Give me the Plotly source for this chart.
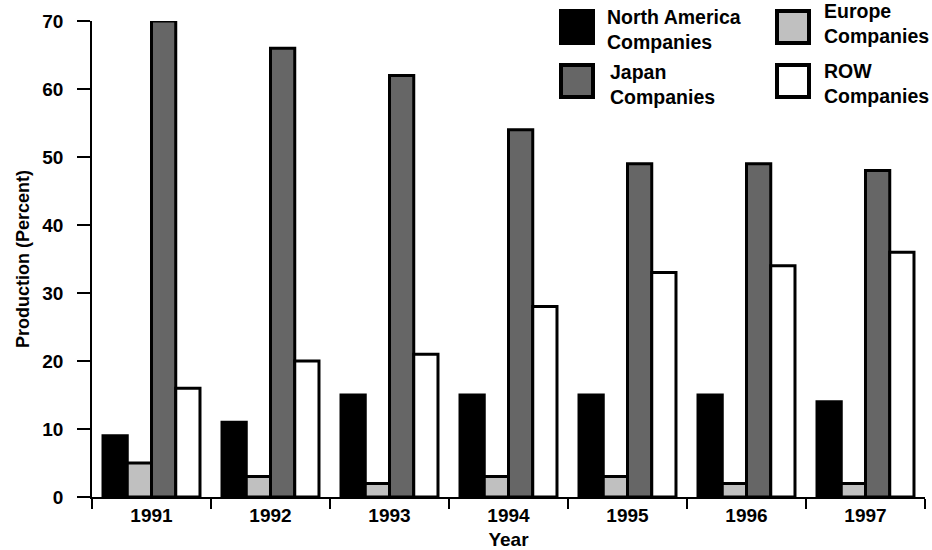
import plotly.graph_objects as go

years = ["1991", "1992", "1993", "1994", "1995", "1996", "1997"]
north_america = [9, 11, 15, 15, 15, 15, 14]
europe = [5, 3, 2, 3, 3, 2, 2]
japan = [70, 66, 62, 54, 49, 49, 48]
row = [16, 20, 21, 28, 33, 34, 36]

series_names = ["North America<br>Companies", "Europe<br>Companies",
                "Japan<br>Companies", "ROW<br>Companies"]
series_values = [north_america, europe, japan, row]
series_colors = ["#000000", "#c0c0c0", "#666666", "#ffffff"]

W, H = 932, 550
# desired plot area in page pixels
PX0, PX1, PY0, PY1 = 92, 925, 21, 497
L, R, T, B = PX0, W - PX1, PY0, H - PY1
pw, ph = PX1 - PX0, PY1 - PY0

FONT = "Liberation Sans, Arial, Helvetica, sans-serif"

fig = go.Figure()
for i in range(4):
    fig.add_trace(go.Bar(
        x=years, y=series_values[i], name=series_names[i],
        marker=dict(color=series_colors[i], line=dict(color="#000000", width=3)),
        showlegend=False,
    ))

def px2paper(x, y):
    return (x - PX0) / pw, (PY1 - y) / ph

# custom legend (2x2) with large swatches: (swatch x, swatch y, text x, text center y)
legend_pos = [(559, 9, 605, 29), (775, 9, 822, 24), (559, 63, 608, 85), (775, 63, 822, 84)]
for i, (sx, sy, tx, ty) in enumerate(legend_pos):
    x0, y1 = px2paper(sx + 2, sy + 2)
    x1, y0 = px2paper(sx + 34, sy + 34)
    fig.add_shape(type="rect", xref="paper", yref="paper", x0=x0, x1=x1, y0=y0, y1=y1,
                  fillcolor=series_colors[i], line=dict(color="#000000", width=4))
    ax, ay = px2paper(tx, ty)
    fig.add_annotation(xref="paper", yref="paper", x=ax, y=ay, xanchor="left", yanchor="middle",
                       text=series_names[i], showarrow=False, align="left",
                       font=dict(family=FONT, size=19.5, color="#000000", weight="bold"))

fig.update_layout(
    width=W, height=H,
    margin=dict(l=L, r=R, t=T, b=B, pad=0),
    paper_bgcolor="#ffffff", plot_bgcolor="#ffffff",
    barmode="group", bargap=0.185, bargroupgap=0,
    font=dict(family=FONT, size=19, color="#000000", weight="bold"),
    showlegend=False,
    xaxis=dict(
        type="category", showline=True, linecolor="#000000", linewidth=1.5,
        ticks="outside", tickson="boundaries", ticklen=10, tickwidth=1.5, tickcolor="#000000",
        showgrid=False, zeroline=False, automargin=False,
        title=dict(text="Year", standoff=12, font=dict(size=19)),
    ),
    yaxis=dict(
        range=[0, 70], tickvals=[0, 10, 20, 30, 40, 50, 60, 70],
        showline=True, linecolor="#000000", linewidth=1.5,
        ticks="outside", ticklen=13, tickwidth=1.5, tickcolor="#000000",
        ticklabelstandoff=10,
        showgrid=False, zeroline=False, automargin=False,
        title=dict(text="Production (Percent)", standoff=8, font=dict(size=18)),
    ),
)

fig.write_html("out.html", config={"displayModeBar": False},
               post_script="document.body.style.margin='0';")
